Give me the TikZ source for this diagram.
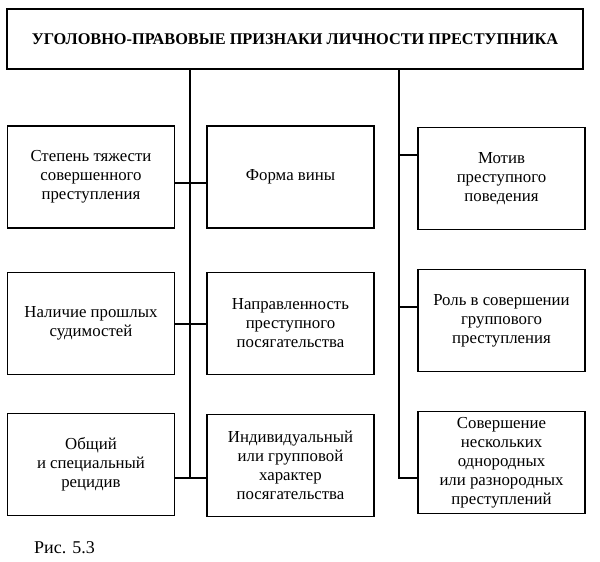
\documentclass[tikz,border=0pt]{standalone}
\usepackage{fontspec}
\setmainfont{Liberation Serif}
\usepackage{xcolor}
\usepackage{tikz}
\usetikzlibrary{calc,positioning}
\tikzset{
  box/.style={draw, line width=1.1pt, fill=white, align=center, text centered, minimum width=167pt, minimum height=102pt, inner sep=2pt, font=\fontsize{16.8}{19}\selectfont},
  head_box/.style={draw, line width=1.1pt, fill=white, align=center, minimum width=576pt, minimum height=60pt, font=\fontsize{16.3}{18}\selectfont\bfseries},
  link/.style={line width=1.1pt}
}
\begin{document}
\begin{tikzpicture}[x=1pt,y=-1pt]
\useasboundingbox (0,0) rectangle (600,562);
\node[head_box] (head) at (295,39) {УГОЛОВНО-ПРАВОВЫЕ ПРИЗНАКИ ЛИЧНОСТИ ПРЕСТУПНИКА};
\node[box] (l1) at (91,177) {Степень тяжести\\совершенного\\преступления};
\node[box] (l2) at (91,323.5) {Наличие прошлых\\судимостей};
\node[box] (l3) at (91,464.5) {Общий\\и специальный\\рецидив};
\node[box] (m1) at (290.5,177) {Форма вины};
\node[box] (m2) at (290.5,323.5) {Направленность\\преступного\\посягательства};
\node[box] (m3) at (290.5,465.5) {Индивидуальный\\или групповой\\характер\\посягательства};
\node[box] (r1) at (501.5,178.5) {Мотив\\преступного\\поведения};
\node[box] (r2) at (501.5,320.5) {Роль в совершении\\группового\\преступления};
\node[box] (r3) at (501.5,462.5) {Совершение\\нескольких\\однородных\\или разнородных\\преступлений};
\coordinate (endL) at (190,478);
\coordinate (endR) at (399,478);
\draw[link] (head.south -| endL) -- (endL);
\draw[link] (head.south -| endR) -- (endR) -- (endR -| r3.west);
\draw[link] (l1.east |- 0,183) -- (m1.west |- 0,183);
\draw[link] (l2.east |- 0,324) -- (m2.west |- 0,324);
\draw[link] (l3.east |- endL) -- (m3.west |- endL);
\draw[link] (endR |- 0,155) -- (r1.west |- 0,155);
\draw[link] (endR |- 0,307) -- (r2.west |- 0,307);
\node[anchor=west, inner sep=0pt, font=\fontsize{18}{20}\selectfont] (caption) at (34,548) {Рис. 5.3};
\end{tikzpicture}
\end{document}
